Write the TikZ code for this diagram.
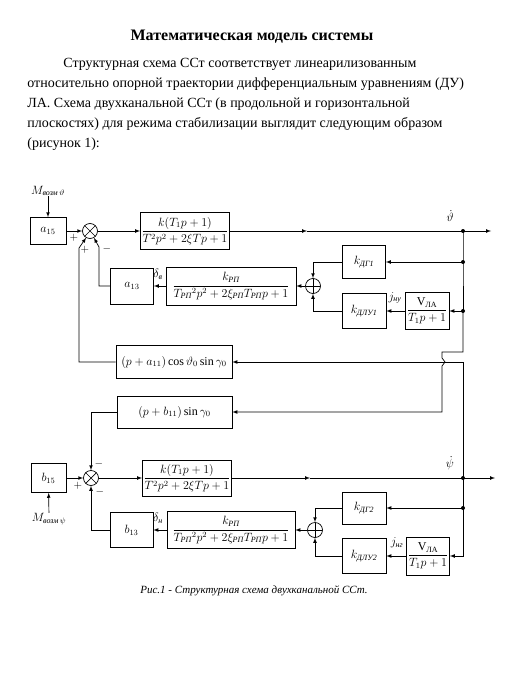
\documentclass[tikz,border=0pt]{standalone}
\usepackage{amsmath}
\usepackage{amssymb}
\usepackage{fontspec}
\setmainfont{Liberation Serif}
\usepackage{tikz}
\usetikzlibrary{arrows}

\newcommand{\rusub}[1]{\textit{#1}}

\tikzset{
	block/.style={draw, rectangle, inner sep=1pt, font=\fontsize{12}{14}\selectfont},
	sumx/.style={draw, circle, minimum size=15pt, inner sep=0pt,
		path picture={\draw (path picture bounding box.north west) -- (path picture bounding box.south east)
			(path picture bounding box.north east) -- (path picture bounding box.south west);}},
	sump/.style={draw, circle, minimum size=15pt, inner sep=0pt,
		path picture={\draw (path picture bounding box.north) -- (path picture bounding box.south)
			(path picture bounding box.west) -- (path picture bounding box.east);}},
	lbl/.style={inner sep=0pt, font=\fontsize{12}{14}\selectfont},
	sgn/.style={inner sep=0pt, font=\fontsize{11}{12}\selectfont},
	bodytext/.style={inner sep=0pt, anchor=west, font=\fontsize{14}{17}\selectfont},
}

\begin{document}
\begin{tikzpicture}[x=1pt, y=-1pt, line width=0.7pt, >=latex]
	\useasboundingbox (0,0) rectangle (524,674);

	%text above

	\node[inner sep=0pt, font=\fontsize{16}{19}\selectfont\bfseries] (title) at (252,37) {Математическая модель системы};
	\node[bodytext] (l1) at (63,64) {Структурная схема ССт соответствует линеарилизованным};
	\node[bodytext] (l2) at (27,84) {относительно опорной траектории дифференциальным уравнениям (ДУ)};
	\node[bodytext] (l3) at (27,104) {ЛА. Схема двухканальной ССт (в продольной и горизонтальной};
	\node[bodytext] (l4) at (27,124) {плоскостях) для режима стабилизации выглядит следующим образом};
	\node[bodytext] (l5) at (27,144) {(рисунок 1):};

	%channel 1

	\node[lbl] (mth) at (48,191) {$M_{\rusub{возм}\,\vartheta}$};
	\node[block, minimum width=36pt, minimum height=27pt] (a15) at (48,231) {$a_{15}$};
	\node[sumx] (s1) at (90,231) {};
	\node[block, minimum width=86pt, minimum height=37pt] (w1) at (185,231) {$\dfrac{k(T_1p+1)}{T^2p^2+2\xi Tp+1}$};
	\coordinate (m1) at (307,231);
	\coordinate (th) at (463,231);
	\coordinate (thend) at (491,231);
	\coordinate (th1) at (463,262);
	\coordinate (th2) at (463,311);
	\node[lbl] (thlbl) at (450,216) {$\dot{\vartheta}$};
	\node[block, minimum width=43pt, minimum height=33pt] (kdg1) at (364,262) {$k_{\rusub{ДГ1}}$};
	\node[block, minimum width=44pt, minimum height=35pt] (kdlu1) at (364,311) {$k_{\rusub{ДЛУ1}}$};
	\node[block, minimum width=44pt, minimum height=37pt] (vla1) at (427,311) {$\dfrac{\mathrm{V}_{\text{ЛА}}}{T_1p+1}$};
	\node[sump] (p1) at (313,286) {};
	\node[block, minimum width=130pt, minimum height=38pt, font=\fontsize{11.5}{13}\selectfont] (rp1) at (231,286) {$\dfrac{k_{\rusub{РП}}}{T_{\rusub{РП}}{}^2p^2+2\xi_{\rusub{РП}}T_{\rusub{РП}}p+1}$};
	\node[block, minimum width=43pt, minimum height=36pt] (a13) at (132,286) {$a_{13}$};
	\node[lbl] (dv) at (158,274) {$\delta_{\rusub{в}}$};
	\node[lbl] (jnu) at (395,298) {$j_{\rusub{ну}}$};
	\node[block, minimum width=116pt, minimum height=33pt] (a11) at (174,362) {$(p+a_{11})\cos\vartheta_0\sin\gamma_0$};

	\node[sgn] (pl1) at (74,238) {$+$};
	\node[sgn] (pl2) at (85,250) {$+$};
	\node[sgn] (mi1) at (107,249) {$-$};

	\draw[->] (mth) -- (a15);
	\draw[->] (a15) -- (s1);
	\draw[->] (s1) -- (w1);
	\draw[->] (w1) -- (m1);
	\draw (m1) -- (th);
	\draw[->] (th) -- (thend);
	\fill (th) circle (2pt);
	\fill (th1) circle (2pt);
	\fill (th2) circle (2pt);
	\draw (th) -- (th1) -- (th2);
	\draw[->] (th1) -- (kdg1);
	\draw[->] (kdg1) -| (p1);
	\draw[->] (th2) -- (vla1);
	\draw[->] (vla1) -- (kdlu1);
	\draw[->] (kdlu1) -| (p1);
	\draw[->] (p1) -- (rp1);
	\draw[->] (rp1) -- (a13);
	\draw[->] (a13.west) -| (99,247) -- (s1.-60);
	\draw[->] (a11.west) -| (79,248) -- (s1.-120);


	%channel 2

	\node[block, minimum width=115pt, minimum height=32pt] (b11) at (174.5,412) {$(p+b_{11})\sin\gamma_0$};
	\node[sumx] (s2) at (91,478) {};
	\node[block, minimum width=35pt, minimum height=29pt] (b15) at (48.5,478) {$b_{15}$};
	\node[lbl] (mps) at (49,519) {$M_{\rusub{возм}\,\psi}$};
	\node[block, minimum width=86pt, minimum height=36pt] (w2) at (187,478) {$\dfrac{k(T_1p+1)}{T^2p^2+2\xi Tp+1}$};
	\coordinate (m2) at (310,478);
	\coordinate (ps) at (463,478);
	\coordinate (psend) at (495,478);
	\coordinate (ps1) at (463,508);
	\node[lbl] (pslbl) at (450,463) {$\dot{\psi}$};
	\node[block, minimum width=44pt, minimum height=32pt] (kdg2) at (364,508) {$k_{\rusub{ДГ2}}$};
	\node[block, minimum width=44pt, minimum height=35pt] (kdlu2) at (364,556) {$k_{\rusub{ДЛУ2}}$};
	\node[block, minimum width=43pt, minimum height=38pt] (vla2) at (428,556) {$\dfrac{\mathrm{V}_{\text{ЛА}}}{T_1p+1}$};
	\node[sump] (p2) at (315,530) {};
	\node[block, minimum width=128pt, minimum height=37pt, font=\fontsize{11.5}{13}\selectfont] (rp2) at (231,530) {$\dfrac{k_{\rusub{РП}}}{T_{\rusub{РП}}{}^2p^2+2\xi_{\rusub{РП}}T_{\rusub{РП}}p+1}$};
	\node[block, minimum width=43pt, minimum height=35pt] (b13) at (131.5,530) {$b_{13}$};
	\node[lbl] (dn) at (158,518) {$\delta_{\rusub{н}}$};
	\node[lbl] (jng) at (397,543) {$j_{\rusub{нг}}$};

	\node[sgn] (pl3) at (78,486) {$+$};
	\node[sgn] (mi2) at (99,464) {$-$};
	\node[sgn] (mi3) at (100,492) {$-$};

	\draw[->] (mps) -- (b15);
	\draw[->] (b15) -- (s2);
	\draw[->] (s2) -- (w2);
	\draw[->] (w2) -- (m2);
	\draw (m2) -- (ps);
	\draw[->] (ps) -- (psend);
	\fill (ps) circle (2pt);
	\fill (ps1) circle (2pt);
	\draw (ps) -- (ps1);
	\draw[->] (ps1) -- (kdg2);
	\draw[->] (ps1) |- (vla2);
	\draw[->] (kdg2) -| (p2);
	\draw[->] (vla2) -- (kdlu2);
	\draw[->] (kdlu2) -| (p2);
	\draw[->] (p2) -- (rp2);
	\draw[->] (rp2) -- (b13);
	\draw[->] (b13) -| (s2);
	\draw[->] (b11) -| (s2);

	%cross links

	\draw[->] (ps) |- (a11);
	\draw[->] (th2) -- (463,352) -- (442,352) -- (442,358) -- ++(3,4) -- ++(-3,4) |- (b11);

	%caption

	\node[inner sep=0pt, font=\fontsize{11}{13}\selectfont\itshape] (cap) at (254,591) {Рис.1 - Структурная схема двухканальной ССт.};

\end{tikzpicture}
\end{document}
